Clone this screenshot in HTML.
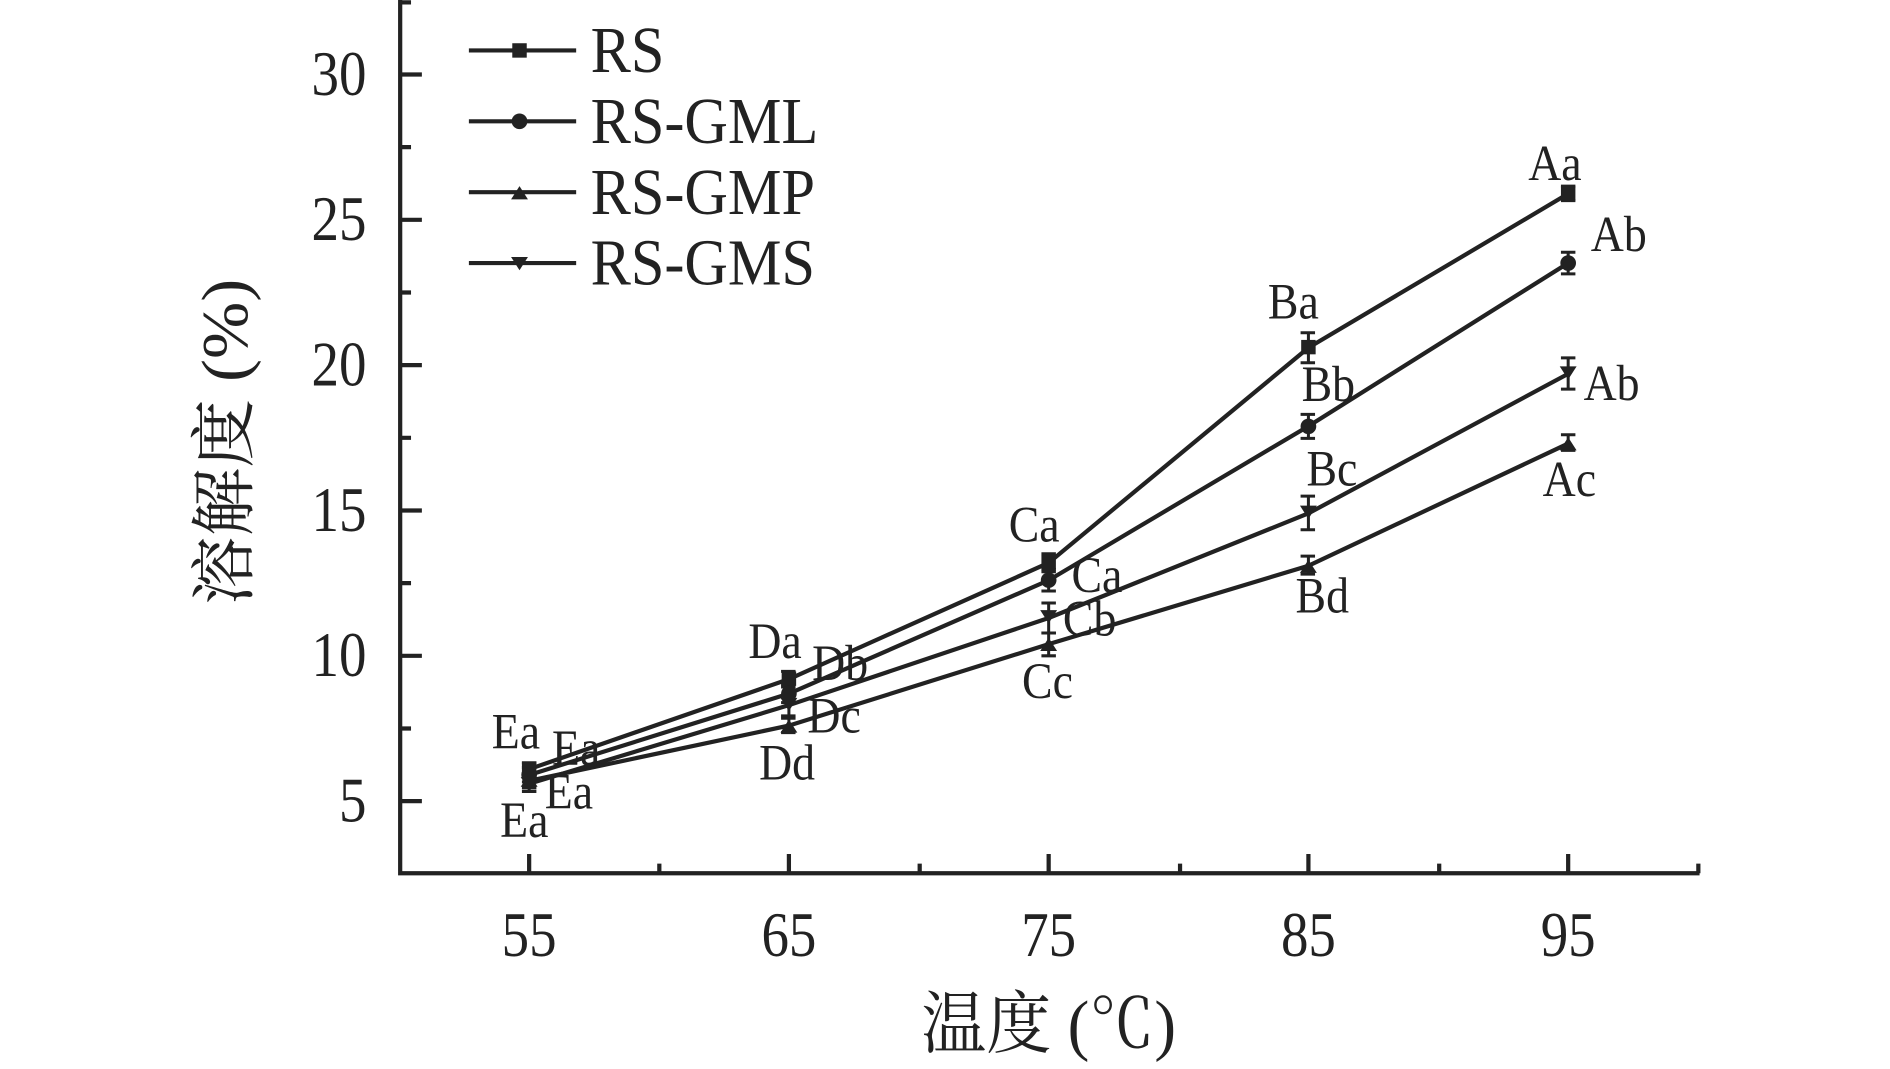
<!DOCTYPE html>
<html><head><meta charset="utf-8"><style>html,body{margin:0;padding:0;background:#fff}svg{display:block}</style></head>
<body>
<svg width="1890" height="1069" viewBox="0 0 1568 890" preserveAspectRatio="none" xmlns="http://www.w3.org/2000/svg" font-family="'Liberation Serif','Noto Serif CJK SC',serif" fill="#222">
<g stroke="#222" stroke-width="3.5" fill="none">
<path d="M332,0 V727 H1410"/>
<path d="M332,62 h18 M332,183 h18 M332,304 h18 M332,425 h18 M332,546 h18 M332,667 h18 M332,122.5 h9 M332,243.5 h9 M332,364.5 h9 M332,485.5 h9 M332,606.5 h9 M332,2 h9"/>
<path d="M439,727 v-16 M654.5,727 v-16 M870,727 v-16 M1085.5,727 v-16 M1301,727 v-16 M547,727 v-8 M763,727 v-8 M979,727 v-8 M1194,727 v-8 M1409,727 v-8"/>
</g>
<g font-size="48" text-anchor="end">
<text transform="translate(304,79) scale(0.95,1.1)">30</text>
<text transform="translate(304,200) scale(0.95,1.1)">25</text>
<text transform="translate(304,321) scale(0.95,1.1)">20</text>
<text transform="translate(304,442) scale(0.95,1.1)">15</text>
<text transform="translate(304,563) scale(0.95,1.1)">10</text>
<text transform="translate(304,684) scale(0.95,1.1)">5</text>
</g>
<g font-size="48" text-anchor="middle">
<text transform="translate(439,796) scale(0.95,1.1)">55</text>
<text transform="translate(654.5,796) scale(0.95,1.1)">65</text>
<text transform="translate(870,796) scale(0.95,1.1)">75</text>
<text transform="translate(1085.5,796) scale(0.95,1.1)">85</text>
<text transform="translate(1301,796) scale(0.95,1.1)">95</text>
<text transform="translate(870,872) scale(1.0,1.05)" font-size="54">温度 (℃)</text>
<text transform="translate(205,368) rotate(-90) scale(1.1,1.05)" font-size="52">溶解度 (%)</text>
</g>
<g stroke="#222" stroke-width="3.5" fill="none">
<polyline points="439,640.4 654.5,565.4 870,468.6 1085.5,289.5 1301,161.3"/>
<polyline points="439,645.2 654.5,577.5 870,483.1 1085.5,354.8 1301,219"/>
<polyline points="439,650.1 654.5,604.1 870,536.3 1085.5,471.0 1301,369.3"/>
<polyline points="439,652.5 654.5,587.1 870,514.5 1085.5,427.4 1301,311.2"/>
<path d="M389,42 H478 M389,101 H478 M389,160 H478 M389,219 H478"/>
</g>
<g stroke="#222" stroke-width="2.5">
<path d="M433,635h12v0M433,647h12M439,635v12 M648,559h12M648,572h12M654.5,559v13 M864,461h12M864,476h12M870,461v15 M1079,277h12M1079,302h12M1085.5,277v25 M1295,155h12M1295,167h12M1301,155v12"/>
<path d="M433,639h12M433,651h12M439,639v12 M648,570h12M648,585h12M654.5,570v15 M864,474h12M864,492h12M870,474v18 M1079,345h12M1079,365h12M1085.5,345v20 M1295,210h12M1295,228h12M1301,210v18"/>
<path d="M433,645h12M433,656h12M439,645v11 M648,598h12M648,610h12M654.5,598v12 M864,527h12M864,546h12M870,527v19 M1079,463h12M1079,478h12M1085.5,463v15 M1295,362h12M1295,375h12M1301,362v13"/>
<path d="M433,646h12M433,659h12M439,646v13 M648,579h12M648,596h12M654.5,579v17 M864,502h12M864,527h12M870,502v25 M1079,413h12M1079,441h12M1085.5,413v28 M1295,298h12M1295,324h12M1301,298v26"/>
</g>
<g>
<rect x="433" y="634" width="12" height="12"/><rect x="648.5" y="559" width="12" height="12"/><rect x="864" y="462" width="12" height="12"/><rect x="1079.5" y="283" width="12" height="12"/><rect x="1295" y="155" width="12" height="12"/>
<circle cx="439" cy="645" r="6.5"/><circle cx="654.5" cy="577.5" r="6.5"/><circle cx="870" cy="483" r="6.5"/><circle cx="1085.5" cy="355" r="6.5"/><circle cx="1301" cy="219" r="6.5"/>
<path d="M432,655h14l-7,-11zM647.5,610h14l-7,-11zM863,542h14l-7,-11zM1078.5,477h14l-7,-11zM1294,375h14l-7,-11z"/>
<path d="M432,647h14l-7,11zM647.5,581h14l-7,11zM863,508h14l-7,11zM1078.5,421h14l-7,11zM1294,305h14l-7,11z"/>
<rect x="425" y="36" width="12" height="12"/><circle cx="431" cy="101" r="6.5"/><path d="M424,166h14l-7,-11z"/><path d="M424,214h14l-7,11z"/>
</g>
<g font-size="50">
<text transform="translate(490,60) scale(1.0,1.1)">RS</text>
<text transform="translate(490,119) scale(1.0,1.1)">RS-GML</text>
<text transform="translate(490,178) scale(1.0,1.1)">RS-GMP</text>
<text transform="translate(490,237) scale(1.0,1.1)">RS-GMS</text>
</g>
<g font-size="40" text-anchor="middle">
<text transform="translate(1290,150) scale(0.95,1.05)">Aa</text>
<text transform="translate(1343,209) scale(0.95,1.05)">Ab</text>
<text transform="translate(1073,265) scale(0.95,1.05)">Ba</text>
<text transform="translate(1102,334) scale(0.95,1.05)">Bb</text>
<text transform="translate(1337,333) scale(0.95,1.05)">Ab</text>
<text transform="translate(1105,404) scale(0.95,1.05)">Bc</text>
<text transform="translate(1302,413) scale(0.95,1.05)">Ac</text>
<text transform="translate(1097,510) scale(0.95,1.05)">Bd</text>
<text transform="translate(858,451) scale(0.95,1.05)">Ca</text>
<text transform="translate(910,493) scale(0.95,1.05)">Ca</text>
<text transform="translate(904,529) scale(0.95,1.05)">Cb</text>
<text transform="translate(869,581) scale(0.95,1.05)">Cc</text>
<text transform="translate(643,548) scale(0.95,1.05)">Da</text>
<text transform="translate(697,566) scale(0.95,1.05)">Db</text>
<text transform="translate(692,610) scale(0.95,1.05)">Dc</text>
<text transform="translate(653,649) scale(0.95,1.05)">Dd</text>
<text transform="translate(428,623) scale(0.95,1.05)">Ea</text>
<text transform="translate(478,637) scale(0.95,1.05)">Ea</text>
<text transform="translate(472,673) scale(0.95,1.05)">Ea</text>
<text transform="translate(435,697) scale(0.95,1.05)">Ea</text>
</g>
</svg>
</body></html>
